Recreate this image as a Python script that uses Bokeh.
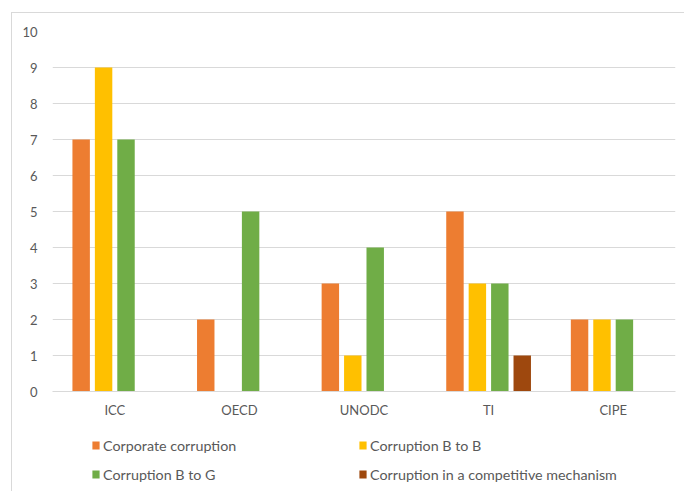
from bokeh.plotting import figure
from bokeh.layouts import column
from bokeh.models import (ColumnDataSource, FactorRange, Range1d, FixedTicker,
                          Legend, LegendItem)
from bokeh.transform import dodge
from bokeh.embed import file_html
from bokeh.resources import INLINE

categories = ["ICC", "OECD", "UNODC", "TI", "CIPE"]
corporate = [7, 2, 3, 5, 2]
b_to_b = [9, 0, 1, 3, 2]
b_to_g = [7, 5, 4, 3, 2]
competitive = [0, 0, 0, 1, 0]
y_ticks = [0, 1, 2, 3, 4, 5, 6, 7, 8, 9, 10]

series = [
    ("Corporate corruption", corporate, "#ED7D31"),
    ("Corruption B to B", b_to_b, "#FFC000"),
    ("Corruption B to G", b_to_g, "#70AD47"),
    ("Corruption in a competitive mechanism", competitive, "#9E480E"),
]

source = ColumnDataSource(dict(cat=categories, s0=corporate, s1=b_to_b,
                               s2=b_to_g, s3=competitive))

FONT = "Lato"
TXT = "#595959"
GRID = "#d9d9d9"

# ---- main chart ----
p = figure(x_range=FactorRange(*categories, range_padding=0),
           y_range=Range1d(0, 10),
           width=672, height=408,
           min_border_left=40, min_border_right=9,
           min_border_top=18, min_border_bottom=30,
           output_backend="svg", toolbar_location=None)

offsets = [-0.27, -0.09, 0.09, 0.27]
for i, (label, vals, color) in enumerate(series):
    p.vbar(x=dodge("cat", offsets[i], range=p.x_range), top="s%d" % i,
           width=0.14, source=source, fill_color=color, line_color=None)

p.outline_line_color = None
p.xgrid.grid_line_color = None
p.ygrid.grid_line_color = GRID
p.ygrid.grid_line_width = 1

p.yaxis.ticker = FixedTicker(ticks=y_ticks)
p.yaxis.axis_line_color = None
p.yaxis.major_tick_line_color = None
p.yaxis.minor_tick_line_color = None
p.yaxis.major_tick_out = 0
p.yaxis.major_label_standoff = 15

p.xaxis.axis_line_color = GRID
p.xaxis.major_tick_line_color = None
p.xaxis.minor_tick_line_color = None
p.xaxis.major_tick_out = 0
p.xaxis.major_label_standoff = 10

for ax in (p.xaxis, p.yaxis):
    ax.major_label_text_font = FONT
    ax.major_label_text_font_size = "13px"
    ax.major_label_text_color = TXT

# ---- legend strip (swatch renderers are zero-size, only for the legend) ----
lg = figure(width=672, height=70, x_range=Range1d(0, 1), y_range=Range1d(0, 1),
            x_axis_type=None, y_axis_type=None,
            min_border_left=40, min_border_right=9,
            min_border_top=0, min_border_bottom=0,
            output_backend="svg", toolbar_location=None)
lg.outline_line_color = None
lg.grid.grid_line_color = None

items = []
for label, vals, color in series:
    r = lg.vbar(x=[0], top=[0], bottom=[0], width=0, fill_color=color,
                line_color=None)
    items.append(LegendItem(label=label, renderers=[r]))

legend = Legend(items=items, orientation="horizontal", ncols=2,
                location=(39, 7), padding=0, margin=0, spacing=9,
                glyph_width=9, glyph_height=10, label_standoff=3,
                label_width=246, label_height=20,
                label_text_font=FONT, label_text_font_size="14.3px",
                label_text_color=TXT, border_line_color=None,
                background_fill_alpha=0)
lg.add_layout(legend, "center")

layout = column(p, lg, spacing=0, margin=(12, 0, 0, 11),
                styles={"border-left": "1px solid #d9d9d9",
                        "border-top": "1px solid #d9d9d9"})

open("out.html", "w").write(file_html(layout, INLINE))
